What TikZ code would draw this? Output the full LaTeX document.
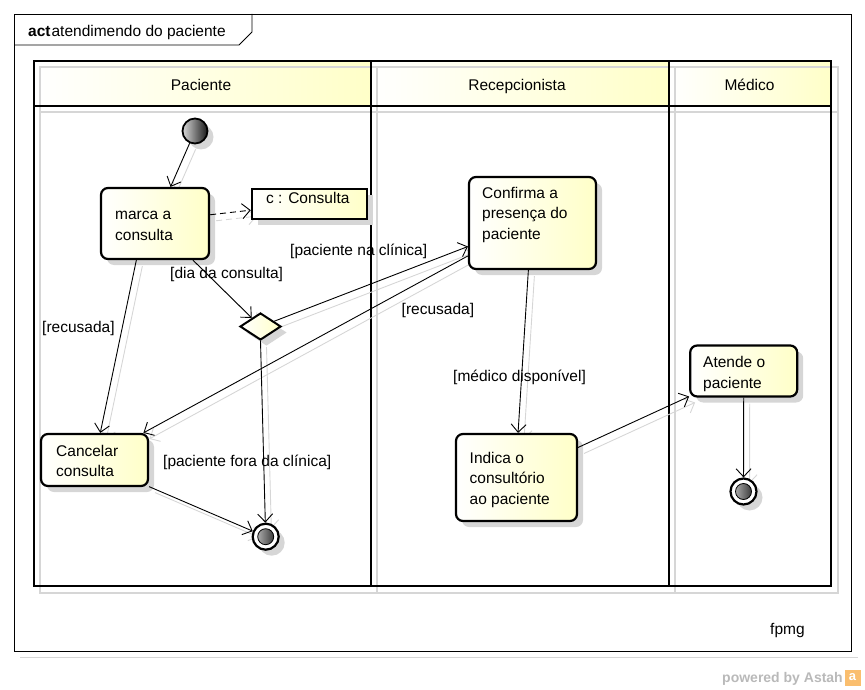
\documentclass[tikz,border=0pt]{standalone}
\usepackage{fontspec}
\setmainfont{Liberation Sans}
\usetikzlibrary{arrows.meta,shapes.geometric,shadows}
\definecolor{lyel}{RGB}{255,255,200}
\definecolor{shgray}{RGB}{214,214,214}
\definecolor{astahgray}{RGB}{185,185,185}
\definecolor{astahorange}{RGB}{250,190,110}
\pgfdeclarelayer{lanes}
\pgfdeclarelayer{bg}
\pgfsetlayers{lanes,bg,main}
\newcommand{\fs}{\fontsize{15.5}{20.5}\selectfont}
\newcommand{\tstrut}{\rule{0pt}{11pt}}
\begin{document}
\begin{tikzpicture}[x=1pt,y=-1pt,font=\fs,
  nodeshadow/.style={drop shadow={shadow xshift=6pt,shadow yshift=-6pt,fill=shgray,opacity=1}},
  actbox/.style={draw=black,line width=2.2pt,rounded corners=7pt,left color=white,right color=lyel,inner sep=0pt,nodeshadow},
  objbox/.style={draw=black,line width=2.4pt,left color=white,right color=lyel,inner sep=0pt,nodeshadow},
  decision/.style={diamond,draw=black,line width=2pt,left color=white,right color=lyel,inner sep=0pt,minimum width=41,minimum height=27,nodeshadow},
  startnode/.style={circle,draw=black,line width=1.8pt,left color=gray!30,right color=black!90,minimum size=25,inner sep=0pt,nodeshadow},
  finalnode/.style={circle,draw=black,line width=2.2pt,fill=white,minimum size=26,inner sep=0pt,nodeshadow,
    path picture={\shade[left color=gray!40,right color=black!90] (path picture bounding box.center) circle (8);
                  \draw[line width=0.8pt] (path picture bounding box.center) circle (8);}},
  txt/.style={anchor=north west,align=left,inner sep=0pt},
  lbl/.style={anchor=base west,inner sep=0pt},
  headlbl/.style={anchor=base,inner sep=0pt},
  lanehead/.style={left color=white,right color=lyel,inner sep=0pt,minimum height=45},
  laneline/.style={draw=black,line width=2pt,inner sep=0pt,minimum height=525},
  lshadow/.style={draw=shgray,line width=2pt},
  flow/.style={-{Straight Barb[length=8pt,width=15pt]},line width=0.9pt},
  edgeshadow/.style={flow,draw=shgray}
]
\useasboundingbox (0,0) rectangle (865,690);

\begin{pgfonlayer}{lanes}
  % frame
  \draw[shgray,line width=1.5pt] (20,657.5) -- (858,657.5);
  \node[draw=black,line width=0.8pt,minimum width=837,minimum height=637,inner sep=0pt,anchor=north west] (frame) at (14,14) {};
  \draw[line width=0.8pt] (14,45) -- (239,45) -- (252,32) -- (252,14);
  \node[lbl] (title) at (28,37) {{\bfseries act}\kern1pt atendimendo do paciente};

  % lane headers
  \node[lanehead,minimum width=337] (hpac) at (202.5,83.5) {};
  \node[lanehead,minimum width=298] (hrec) at (520,83.5) {};
  \node[lanehead,minimum width=162] (hmed) at (750,83.5) {};
  \node[headlbl] (hpacT) at (201,90.5) {Paciente};
  \node[headlbl] (hrecT) at (517,90.5) {Recepcionista};
  \node[headlbl] (hmedT) at (749.5,90.5) {Médico};

  % lane shadows
  \draw[lshadow] (40,67) rectangle (837.5,592.5);
  \draw[lshadow] (40,112.5) -- (837.5,112.5);
  \draw[lshadow] (377,67) -- (377,592.5);
  \draw[lshadow] (675,67) -- (675,592.5);

  % lanes
  \node[laneline,minimum width=337] (lpac) at (202.5,323.5) {};
  \node[laneline,minimum width=298] (lrec) at (520,323.5) {};
  \node[laneline,minimum width=162] (lmed) at (750,323.5) {};
  \draw[line width=2pt] (lpac.west |- hpac.south) -- (lmed.east |- hpac.south);
\end{pgfonlayer}

% nodes
\node[startnode] (start) at (195,131) {};
\node[actbox,minimum width=108,minimum height=71] (marca) at (155,223.5) {};
\node[txt] (marcaT) at (115,208.5) {\tstrut marca a\\consulta};
\node[objbox,minimum width=115,minimum height=30] (cobj) at (309.5,204) {};
\node[lbl] (cobjT) at (266,204) {c : Consulta};
\node[decision] (dec) at (260.5,326.5) {};
\node[actbox,minimum width=107,minimum height=52] (cancel) at (94.5,460) {};
\node[txt] (cancelT) at (56,445) {\tstrut Cancelar\\consulta};
\node[finalnode] (final1) at (265.7,536.7) {};
\node[actbox,minimum width=127,minimum height=92] (confirma) at (532.5,223) {};
\node[txt] (confirmaT) at (482,187) {\tstrut Confirma a\\presença do\\paciente};
\node[actbox,minimum width=121,minimum height=87] (indica) at (516.5,477.5) {};
\node[txt] (indicaT) at (469.5,451.7) {\tstrut Indica o\\consultório\\ao paciente};
\node[actbox,minimum width=107,minimum height=51] (atende) at (743.7,371) {};
\node[txt] (atendeT) at (703,356.3) {\tstrut Atende o\\paciente};
\node[finalnode] (final2) at (743.5,491.5) {};

% edge shadows
\begin{pgfonlayer}{bg}
\begin{scope}[transform canvas={shift={(6pt,-6pt)}}]
  \draw[edgeshadow] (start) -- (marca.67);
  \draw[edgeshadow,dash pattern=on 6pt off 4pt] (marca.9) -- (cobj.186);
  \draw[edgeshadow] (marca.-44) -- (dec);
  \draw[edgeshadow] (marca.-117) -- (cancel.78);
  \draw[edgeshadow] (dec.21) -- (confirma.200);
  \draw[edgeshadow] (confirma.207) -- (cancel.29);
  \draw[edgeshadow] (dec.south) -- (final1);
  \draw[edgeshadow] (cancel.-26) -- (final1);
  \draw[edgeshadow] (confirma.-95) -- (indica.88);
  \draw[edgeshadow] (indica.26) -- (atende.205);
  \draw[edgeshadow] (atende.south) -- (final2);
\end{scope}
\end{pgfonlayer}

% edges
\draw[flow] (start) -- (marca.67);
\draw[flow,dash pattern=on 6pt off 4pt] (marca.9) -- (cobj.186);
\draw[flow] (marca.-44) -- (dec);
\draw[flow] (marca.-117) -- (cancel.78);
\draw[flow] (dec.21) -- (confirma.200);
\draw[flow] (confirma.207) -- (cancel.29);
\draw[flow] (dec.south) -- (final1);
\draw[flow] (cancel.-26) -- (final1);
\draw[flow] (confirma.-95) -- (indica.88);
\draw[flow] (indica.26) -- (atende.205);
\draw[flow] (atende.south) -- (final2);

% guard labels
\node[lbl] (l1) at (170,278) {[dia da consulta]};
\node[lbl] (l2) at (290,255) {[paciente na clínica]};
\node[lbl] (l3) at (401.5,314) {[recusada]};
\node[lbl] (l4) at (42,332) {[recusada]};
\node[lbl] (l5) at (163,466.5) {[paciente fora da clínica]};
\node[lbl] (l6) at (453,381.5) {[médico disponível]};

% footer
\node[lbl] (fpmg) at (770,634) {fpmg};
\node[anchor=base east,inner sep=0pt,font=\fontsize{14}{16}\selectfont\bfseries,text=astahgray] (powered) at (843,682) {powered by Astah};
\node[fill=astahorange,minimum size=16,inner sep=0pt,text=white,font=\fontsize{13}{14}\selectfont\bfseries] (logo) at (852.5,677.5) {a};
\end{tikzpicture}
\end{document}
